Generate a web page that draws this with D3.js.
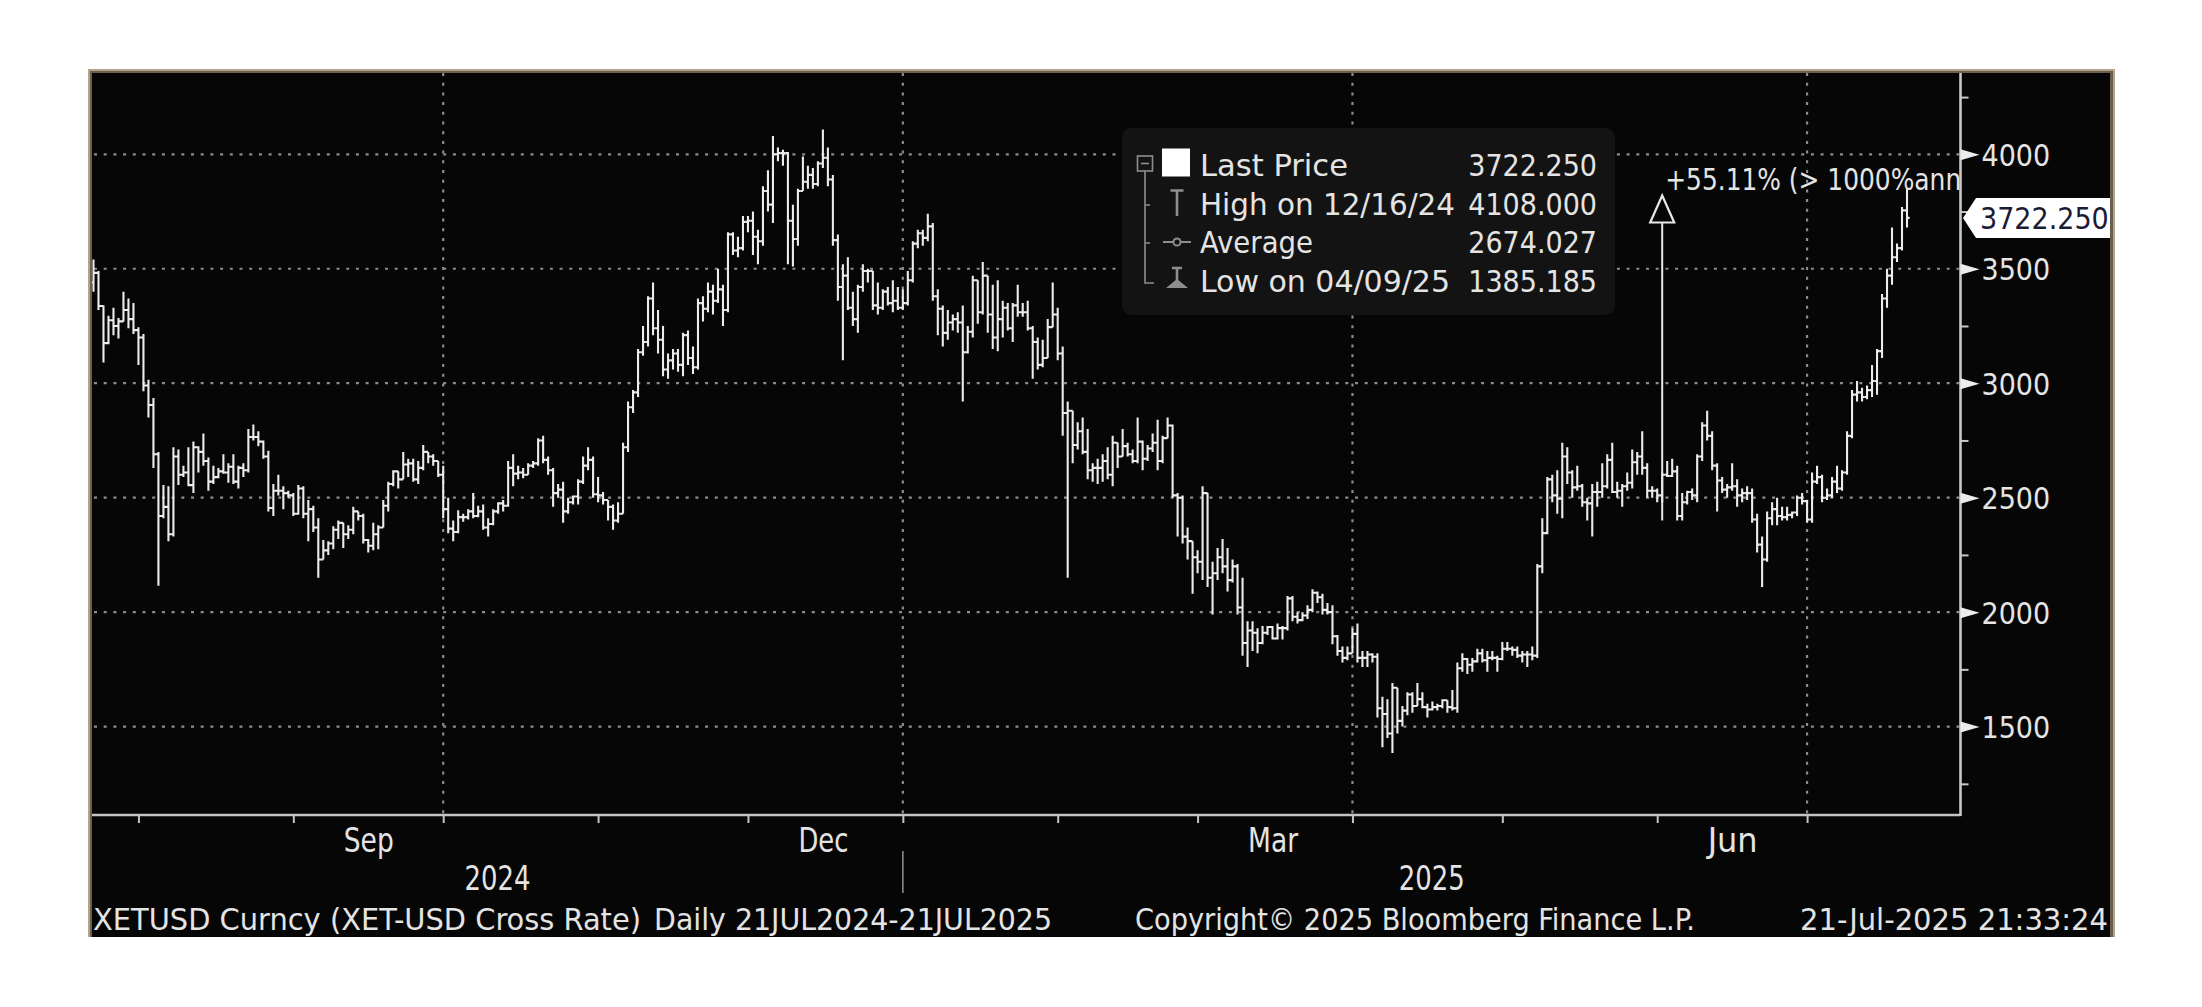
<!DOCTYPE html>
<html><head><meta charset="utf-8">
<script src="https://cdn.jsdelivr.net/npm/d3@7"></script>
<style>
body{margin:0;background:#fff;}
svg{display:block;}
</style>
</head><body>
<svg id="c" width="2202" height="1007"></svg>
<script>
// ---------------- DATA ----------------
const startDate = [2024, 6, 21]; // 21 Jul 2024, daily bars
const firstOpen = 3505;
const closes = [
3535,3440,3482,3337,3175,3275,3250,3270,3320,3280,3232,
3200,2990,2905,2690,2420,2460,2340,2680,2600,2610,2555,2720,2700,2660,2570,2590,2615,2610,2635,2570,2630,2620,2765,2765,2745,2680,2455,2530,2530,2520,2510,
2430,2540,2430,2450,2370,2230,2270,2300,2360,2390,2340,2360,2440,2420,2315,2290,2340,2370,2465,2560,2615,2580,2645,2650,2580,2630,2700,2680,2660,2600,
2450,2365,2350,2415,2415,2440,2420,2440,2370,2385,2440,2475,2465,2630,2605,2610,2600,2640,2650,2750,2665,2620,2520,2535,2440,2480,2505,2570,2640,2665,2515,
2510,2490,2460,2400,2430,2720,2895,2960,3135,3180,3370,3240,3190,3060,3100,3130,3080,3210,3110,3070,3350,3325,3400,3360,3410,3320,3650,3580,3590,3705,
3710,3640,3620,3840,3780,4000,4005,4005,3710,3630,3840,3880,3910,3870,3960,3985,3890,3625,3420,3470,3330,3280,3420,3490,3490,3340,3330,3400,3350,3360,3330,
3350,3450,3610,3655,3635,3685,3380,3325,3220,3265,3280,3265,3135,3225,3450,3310,3470,3300,3200,3280,3330,3240,3340,3310,3310,3240,3180,3080,3110,3245,3300,
3130,2870,2880,2730,2790,2700,2620,2630,2630,2660,2600,2740,2680,2725,2690,2660,2745,2670,2715,2740,2660,2760,2815,2510,2500,2330,2310,2240,
2220,2520,2150,2170,2240,2200,2140,2200,2020,1865,1920,1910,1865,1910,1935,1885,1930,1930,2060,1980,1965,1985,2010,2085,2065,2010,2000,1895,1830,1800,1820,
1905,1800,1800,1815,1805,1580,1555,1470,1670,1525,1570,1640,1590,1620,1585,1575,1585,1590,1615,1585,1580,1755,1795,1770,1785,1820,1790,1800,1800,1795,
1840,1840,1835,1810,1815,1815,1810,2200,2345,2580,2510,2495,2680,2610,2545,2550,2480,2475,2525,2525,2550,2665,2525,2530,2550,2565,2655,2680,2630,2530,2530,
2510,2600,2595,2615,2420,2480,2525,2510,2680,2815,2770,2640,2575,2535,2545,2550,2510,2520,2520,2405,2295,2230,2410,2450,2420,2415,2425,2435,2500,2485,
2405,2570,2590,2500,2510,2570,2540,2610,2770,2950,2960,2940,2970,3010,3140,3370,3470,3550,3590,3755,3722.25
];
const highs = [
3550,3563,3540,3490,3340,3295,3330,3285,3400,3370,3350,
3245,3215,3015,2935,2700,2555,2550,2720,2710,2640,2720,2745,2725,2780,2675,2640,2630,2690,2650,2690,2640,2650,2800,2820,2790,2750,2705,2560,2600,2550,2530,
2520,2555,2550,2490,2465,2410,2315,2310,2375,2400,2390,2380,2460,2440,2430,2320,2390,2380,2490,2570,2620,2600,2700,2670,2670,2660,2730,2700,2690,2660,
2640,2500,2400,2445,2430,2450,2520,2465,2470,2410,2450,2480,2490,2660,2690,2640,2630,2650,2660,2760,2770,2680,2630,2560,2570,2500,2510,2580,2680,2720,2680,
2590,2525,2490,2470,2480,2740,2920,2970,3150,3250,3380,3440,3320,3250,3130,3150,3150,3220,3230,3160,3370,3380,3440,3430,3500,3430,3660,3660,3640,3730,
3730,3750,3670,3860,3930,4080,4030,4020,4010,3780,3850,3990,3950,3940,3970,4108,4030,3910,3650,3520,3550,3400,3430,3520,3500,3470,3440,3410,3420,3450,3420,
3410,3490,3620,3670,3670,3740,3700,3410,3340,3320,3300,3310,3340,3250,3470,3450,3530,3450,3430,3450,3360,3350,3350,3430,3350,3360,3250,3200,3190,3280,3440,
3330,3160,2920,2870,2830,2850,2800,2650,2670,2690,2720,2770,2740,2800,2740,2710,2850,2750,2730,2780,2840,2770,2850,2820,2520,2510,2370,2310,
2270,2550,2520,2220,2280,2320,2280,2230,2210,2150,1960,1960,1930,1940,1940,1940,1950,1940,2070,2070,2000,2000,2030,2100,2090,2080,2040,2030,1900,1850,1850,
1930,1950,1830,1830,1820,1820,1630,1620,1690,1670,1590,1650,1650,1690,1650,1600,1610,1600,1620,1610,1660,1780,1820,1800,1800,1840,1840,1830,1830,1810,
1870,1870,1850,1850,1830,1830,1850,2210,2410,2590,2600,2620,2740,2720,2620,2640,2560,2500,2560,2570,2650,2690,2740,2570,2560,2610,2710,2700,2790,2650,2550,
2540,2610,2660,2670,2640,2520,2530,2540,2690,2830,2880,2790,2650,2590,2560,2650,2580,2540,2550,2540,2430,2330,2440,2480,2500,2460,2460,2440,2510,2520,
2490,2610,2640,2600,2540,2590,2640,2620,2790,2970,3010,2980,2990,3080,3150,3390,3500,3680,3610,3770,3850
];
const lows = [
3440,3420,3400,3320,3090,3170,3210,3195,3300,3240,3215,
3080,2965,2850,2630,2115,2410,2310,2330,2555,2590,2550,2520,2610,2640,2530,2560,2585,2605,2565,2560,2540,2590,2610,2750,2725,2670,2440,2420,2510,2450,2500,
2420,2425,2410,2310,2350,2150,2260,2250,2275,2320,2280,2320,2340,2400,2300,2260,2270,2275,2370,2440,2550,2540,2580,2590,2570,2560,2620,2650,2640,2590,
2410,2345,2310,2345,2395,2405,2410,2415,2360,2330,2380,2430,2440,2460,2550,2580,2585,2600,2630,2640,2650,2600,2460,2500,2390,2430,2470,2470,2560,2620,2500,
2480,2470,2400,2360,2390,2430,2700,2870,2940,3120,3160,3210,3130,3030,3020,3060,3050,3030,3080,3040,3060,3270,3310,3300,3350,3250,3310,3560,3550,3580,
3660,3560,3520,3600,3750,3700,3970,3950,3520,3510,3600,3850,3850,3850,3860,3940,3860,3600,3360,3100,3320,3250,3220,3400,3440,3320,3300,3320,3340,3310,3320,
3320,3340,3440,3590,3600,3620,3360,3210,3160,3190,3230,3220,2920,3130,3200,3260,3300,3220,3150,3140,3200,3230,3180,3290,3290,3230,3020,3060,3070,3110,3250,
3100,2770,2150,2650,2710,2690,2580,2570,2560,2570,2580,2550,2630,2680,2680,2650,2650,2620,2660,2700,2620,2650,2760,2500,2330,2300,2230,2080,
2170,2140,2110,1990,2140,2170,2090,2130,1990,1810,1760,1830,1820,1860,1900,1880,1880,1880,1920,1960,1950,1960,1970,2000,2040,1990,1990,1860,1810,1780,1790,
1820,1780,1760,1760,1780,1540,1410,1450,1385,1470,1500,1550,1560,1590,1580,1540,1570,1570,1580,1560,1570,1560,1740,1730,1740,1780,1780,1740,1790,1740,
1790,1830,1810,1800,1780,1760,1790,1800,2170,2340,2480,2430,2410,2560,2500,2530,2460,2400,2330,2460,2500,2540,2520,2500,2460,2530,2540,2600,2600,2500,2500,
2480,2480,2590,2590,2400,2400,2470,2490,2480,2660,2750,2620,2440,2520,2500,2530,2460,2480,2490,2390,2260,2110,2220,2380,2380,2400,2400,2410,2420,2470,
2390,2390,2560,2480,2490,2500,2520,2530,2600,2760,2920,2920,2930,2940,2950,3110,3330,3430,3530,3580,3680
];
const yTicks = [1500, 2000, 2500, 3000, 3500, 4000];
const yMinorTicks = [1250, 1750, 2250, 2750, 3250, 3750, 4250];
const gridDates = ["2024-10-01", "2025-01-01", "2025-04-01", "2025-07-01"];
const monthTickDates = ["2024-08-01","2024-09-01","2024-10-01","2024-11-01","2024-12-01","2025-01-01","2025-02-01","2025-03-01","2025-04-01","2025-05-01","2025-06-01","2025-07-01"];
const monthLabelDates = ["2024-09-16", "2024-12-16", "2025-03-16", "2025-06-16"];
const monthLabels = ["Sep", "Dec", "Mar", "Jun"];
const yearLabels = ["2024", "2025"];
const yearBreak = "2025-01-01";
const legendLabels = ["Last Price", "High on 12/16/24", "Average", "Low on 04/09/25"];
const legendValues = ["3722.250", "4108.000", "2674.027", "1385.185"];
const lastPrice = 3722.25;
const annotationDate = "2025-06-02";
const annotationFrom = 2400;
const annotationTo = 3820;
const annotationText = "+55.11% (> 1000%ann";
const footerLeft = ["XETUSD Curncy (XET-USD Cross Rate)", "Daily 21JUL2024-21JUL2025"];
const footerMid = "Copyright\u00A9 2025 Bloomberg Finance L.P.";
const footerRight = "21-Jul-2025 21:33:24";

// ---------------- LAYOUT ----------------
const svg = d3.select("#c");
const P = {left: 92, right: 1960.5, top: 73, bottom: 815};
const parse = d3.timeParse("%Y-%m-%d");
const x = d3.scaleTime().domain([new Date(2024,6,21), new Date(2025,6,21)]).range([83.5, 1907]);
const y = d3.scaleLinear().domain([1500, 4000]).range([726.6, 154.3]);
const FONT = "'DejaVu Sans Condensed','Liberation Sans',sans-serif";
const TXT = "#e4e4e4";

// panel with tan border
svg.append("rect").attr("x",88).attr("y",69).attr("width",2027).attr("height",868).attr("fill","#b3a388");
svg.append("rect").attr("x",90).attr("y",71).attr("width",2023).attr("height",866).attr("fill","#6b5f4e");
svg.append("rect").attr("x",92).attr("y",73).attr("width",2018).attr("height",864).attr("fill","#060606");

const defs = svg.append("defs");
defs.append("clipPath").attr("id","plotclip").append("rect")
  .attr("x",P.left).attr("y",P.top).attr("width",P.right-P.left).attr("height",P.bottom-P.top);

// gridlines
const grid = svg.append("g").attr("stroke","#8c8c8c").attr("stroke-width",2.2).attr("stroke-dasharray","3,6.7");
grid.selectAll("line.h").data(yTicks).join("line")
  .attr("x1",P.left+2).attr("x2",P.right).attr("y1",d=>y(d)).attr("y2",d=>y(d));
grid.selectAll("line.v").data(gridDates).join("line")
  .attr("x1",d=>x(parse(d))).attr("x2",d=>x(parse(d))).attr("y1",P.top).attr("y2",P.bottom);

// legend box
const lg = svg.append("g");
lg.append("rect").attr("x",1122).attr("y",128).attr("width",493).attr("height",187).attr("rx",9).attr("fill","#131313");
const icon = "#8e8e8e";
lg.append("rect").attr("x",1137.5).attr("y",156).attr("width",15).attr("height",15).attr("fill","none").attr("stroke",icon).attr("stroke-width",1.6);
lg.append("line").attr("x1",1141).attr("x2",1149).attr("y1",163.5).attr("y2",163.5).attr("stroke",icon).attr("stroke-width",1.6);
lg.append("path").attr("d","M1145,171V283H1154M1145,205H1150M1145,243H1150").attr("fill","none").attr("stroke",icon).attr("stroke-width",1.6);
lg.append("rect").attr("x",1162).attr("y",148.5).attr("width",28).attr("height",28).attr("fill","#ffffff");
lg.append("path").attr("d","M1170.5,190.5H1183.5M1177,190.5V216").attr("fill","none").attr("stroke",icon).attr("stroke-width",2.6);
lg.append("path").attr("d","M1163,242H1191").attr("stroke",icon).attr("stroke-width",2);
lg.append("circle").attr("cx",1177).attr("cy",242).attr("r",3.6).attr("fill","#131313").attr("stroke",icon).attr("stroke-width",2);
lg.append("path").attr("d","M1172,268H1182M1177,268V283").attr("fill","none").attr("stroke",icon).attr("stroke-width",2.6);
lg.append("path").attr("d","M1166,288L1177,279L1188,288Z").attr("fill",icon);
const legendY = [176, 215, 252.5, 292];
const legendW = [148, 255, 113, 250];
lg.selectAll("text.ll").data(legendLabels).join("text")
  .attr("x",1200).attr("y",(d,i)=>legendY[i]).attr("textLength",(d,i)=>legendW[i]).attr("lengthAdjust","spacingAndGlyphs")
  .attr("font-family",FONT).attr("font-size",30).attr("fill",TXT).text(d=>d);
lg.selectAll("text.lv").data(legendValues).join("text")
  .attr("x",1597).attr("y",(d,i)=>legendY[i]).attr("text-anchor","end")
  .attr("font-family",FONT).attr("font-size",30).attr("fill",TXT).text(d=>d);

// OHLC bars
const days = closes.map((c,i)=>d3.timeDay.offset(new Date(...startDate), i));
const bars = days.map((d,i)=>({d, o: i ? closes[i-1] : firstOpen, h: highs[i], l: lows[i], c: closes[i]}));
const plot = svg.append("g").attr("clip-path","url(#plotclip)");
plot.selectAll("path.bar").data(bars).join("path")
  .attr("d", b => {
    const X = x(b.d);
    const hi = Math.max(b.h, b.o, b.c), lo = Math.min(b.l, b.o, b.c);
    return `M${X},${y(hi)}V${y(lo)}M${X-2.6},${y(b.o)}H${X}M${X},${y(b.c)}H${X+2.6}`;
  })
  .attr("fill","none").attr("stroke","#ececec").attr("stroke-width",2.1);

// annotation arrow
const ax = x(parse(annotationDate));
const aTop = y(annotationTo);
plot.append("line").attr("x1",ax).attr("x2",ax).attr("y1",y(annotationFrom)).attr("y2",aTop+27)
  .attr("stroke","#e8e8e8").attr("stroke-width",2);
plot.append("path").attr("d",`M${ax},${aTop}L${ax+12},${aTop+27}L${ax-12},${aTop+27}Z`)
  .attr("fill","#060606").attr("stroke","#e8e8e8").attr("stroke-width",2.2);
plot.append("text").attr("x",ax+3).attr("y",aTop-6).attr("font-family",FONT).attr("font-size",30).attr("fill",TXT)
  .attr("textLength",296).attr("lengthAdjust","spacingAndGlyphs").text(annotationText);

// x axis: line, month ticks
svg.append("line").attr("x1",P.left).attr("x2",P.right).attr("y1",P.bottom).attr("y2",P.bottom).attr("stroke","#c4c4c4").attr("stroke-width",2.4);
const xAxis = d3.axisBottom(x).tickValues(monthTickDates.map(parse)).tickSize(8).tickFormat("");
const xg = svg.append("g").attr("transform",`translate(0,${P.bottom})`).call(xAxis);
xg.select(".domain").remove();
xg.selectAll(".tick line").attr("stroke","#c4c4c4").attr("stroke-width",2);

const mAxis = d3.axisBottom(x).tickValues(monthLabelDates.map(parse)).tickSize(0).tickPadding(0)
  .tickFormat((d,i)=>monthLabels[i]);
const mg = svg.append("g").attr("transform",`translate(0,852)`).call(mAxis);
mg.select(".domain").remove();
mg.selectAll(".tick text").attr("dy",0).attr("font-family",FONT).attr("font-size",34).attr("fill",TXT)
  .attr("textLength",50).attr("lengthAdjust","spacingAndGlyphs");

// year labels
const xb = x(parse(yearBreak));
const yearX = [(P.left + xb)/2, (xb + P.right)/2];
svg.selectAll("text.yr").data(yearLabels).join("text")
  .attr("x",(d,i)=>yearX[i]).attr("y",890).attr("text-anchor","middle").attr("font-family",FONT).attr("font-size",34)
  .attr("textLength",66).attr("lengthAdjust","spacingAndGlyphs").attr("fill",TXT).text(d=>d);
svg.append("line").attr("x1",xb).attr("x2",xb).attr("y1",851).attr("y2",893).attr("stroke","#8a8a8a").attr("stroke-width",1.6);

// y axis
svg.append("line").attr("x1",P.right).attr("x2",P.right).attr("y1",P.top).attr("y2",P.bottom+1).attr("stroke","#c8c8c8").attr("stroke-width",2.6);
const yMinor = d3.axisRight(y).tickValues(yMinorTicks.filter(v=>y(v)>P.top && y(v)<P.bottom)).tickSize(8).tickFormat("");
const ymg = svg.append("g").attr("transform",`translate(${P.right},0)`).call(yMinor);
ymg.select(".domain").remove();
ymg.selectAll(".tick line").attr("stroke","#c8c8c8").attr("stroke-width",2);
const yAxis = d3.axisRight(y).tickValues(yTicks).tickSize(0).tickPadding(21).tickFormat(d3.format("d"));
const yg = svg.append("g").attr("transform",`translate(${P.right},0)`).call(yAxis);
yg.select(".domain").remove();
yg.selectAll(".tick text").attr("dy","0.37em").attr("font-family",FONT).attr("font-size",30).attr("fill",TXT);
yg.selectAll(".tick").append("path").attr("d","M0,-5.5L19,0L0,5.5Z").attr("fill","#ececec");

// last price label
const yl = y(lastPrice);
svg.append("path").attr("d",`M1963,${yl}L1976,${yl-20}H2110V${yl+20}H1976Z`).attr("fill","#ffffff");
svg.append("text").attr("x",1980).attr("y",yl).attr("dy","0.37em").attr("font-family",FONT).attr("font-size",30)
  .attr("fill","#1b1b36").text(d3.format(".3f")(lastPrice));

// footer
const foot = svg.append("g").attr("font-family",FONT).attr("font-size",30).attr("fill",TXT);
foot.append("text").attr("x",93).attr("y",930).attr("textLength",548).attr("lengthAdjust","spacingAndGlyphs").text(footerLeft[0]);
foot.append("text").attr("x",654).attr("y",930).attr("textLength",398).attr("lengthAdjust","spacingAndGlyphs").text(footerLeft[1]);
foot.append("text").attr("x",1135).attr("y",930).attr("textLength",560).attr("lengthAdjust","spacingAndGlyphs").text(footerMid);
foot.append("text").attr("x",1800).attr("y",930).attr("textLength",308).attr("lengthAdjust","spacingAndGlyphs").text(footerRight);
</script>
</body></html>
